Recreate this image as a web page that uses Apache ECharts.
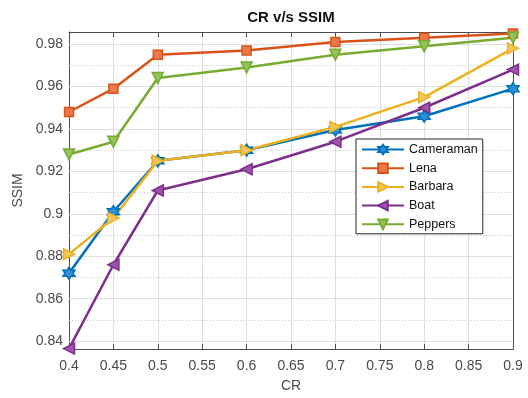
<!DOCTYPE html>
<html>
<head>
<meta charset="utf-8">
<script src="https://cdn.jsdelivr.net/npm/echarts@6/dist/echarts.min.js"></script>
<style>
html,body{margin:0;padding:0;background:#fff;}
#chart{width:528px;height:398px;}
</style>
</head>
<body>
<div id="chart"></div>
<script>
// ---- data ----
const crValues = [0.4, 0.45, 0.5, 0.6, 0.7, 0.8, 0.9];
const seriesNames = ['Cameraman', 'Lena', 'Barbara', 'Boat', 'Peppers'];
const cameraman = [0.872, 0.901, 0.925, 0.930, 0.9395, 0.946, 0.959];
const lena      = [0.948, 0.959, 0.975, 0.977, 0.981, 0.983, 0.985];
const barbara   = [0.881, 0.898, 0.925, 0.930, 0.941, 0.955, 0.978];
const boat      = [0.8365, 0.876, 0.911, 0.921, 0.934, 0.950, 0.968];
const peppers   = [0.928, 0.934, 0.964, 0.969, 0.975, 0.979, 0.983];
const yTickLabels = [0.84, 0.86, 0.88, 0.9, 0.92, 0.94, 0.96, 0.98];
const xTickLabels = [0.4, 0.45, 0.5, 0.55, 0.6, 0.65, 0.7, 0.75, 0.8, 0.85, 0.9];
const yMinorStep = 0.005;

// ---- style ----
const colors = ['#0072BD', '#D95319', '#EDB120', '#7E2F8E', '#77AC30'];
const fills  = ['#2f8fd0', '#e87a4a', '#f3c75a', '#9a55a8', '#93c45a'];
const symbols = [
  'path://M0,-10 L2.89,-5 L8.66,-5 L5.77,0 L8.66,5 L2.89,5 L0,10 L-2.89,5 L-8.66,5 L-5.77,0 L-8.66,-5 L-2.89,-5 Z',
  'rect',
  'path://M0,0 L10,5 L0,10 Z',
  'path://M10,0 L0,5 L10,10 Z',
  'path://M0,0 L10,0 L5,10 Z'
];
const symbolSizes = [12, 9, 11, 11, 11];
const allSeries = [cameraman, lena, barbara, boat, peppers];

const yMin = 0.8363, yMax = 0.9857;
const minorVals = [];
for (let v = 0.835; v < yMax; v += yMinorStep) {
  const r = Math.round(v * 1000) / 1000;
  if (r > yMin && !yTickLabels.some(t => Math.abs(t - r) < 1e-6)) minorVals.push(r);
}

const chart = echarts.init(document.getElementById('chart'), null, {renderer: 'canvas'});
const axisColor = '#4d4d4d';
const labelColor = '#4a4a4a';
const fontFamily = 'Liberation Sans, Arial, Helvetica, sans-serif';

const series = allSeries.map((vals, i) => ({
  name: seriesNames[i],
  type: 'line',
  z: 3,
  data: crValues.map((x, j) => [x, vals[j]]),
  symbol: symbols[i],
  symbolSize: symbolSizes[i],
  showSymbol: true,
  lineStyle: {color: colors[i], width: 2.5},
  itemStyle: {color: fills[i], borderColor: colors[i], borderWidth: 1.5},
  emphasis: {disabled: true},
  animation: false
}));

series.push({
  name: '_grid',
  type: 'line',
  data: [],
  silent: true,
  animation: false,
  markLine: {
    silent: true,
    z: 1,
    symbol: ['none', 'none'],
    label: {show: false},
    animation: false,
    data: minorVals.map(v => ({yAxis: v, lineStyle: {color: '#c8c8c8', type: [1, 2], width: 1}}))
      .concat(yTickLabels.map(v => ({yAxis: v, lineStyle: {color: '#dedede', type: 'solid', width: 1}})))
  }
});

const option = {
  backgroundColor: '#ffffff',
  animation: false,
  title: {
    text: 'CR v/s SSIM',
    left: 291,
    textAlign: 'center',
    top: 10,
    padding: 0,
    textStyle: {fontSize: 15, fontWeight: 'bold', color: '#111', fontFamily: fontFamily}
  },
  grid: {left: 69, right: 15, top: 32, bottom: 43, containLabel: false},
  legend: {
    data: seriesNames,
    orient: 'vertical',
    left: 356,
    top: 139,
    backgroundColor: '#ffffff',
    borderColor: '#262626',
    borderWidth: 1,
    borderRadius: 0,
    padding: [4, 5, 3, 5],
    itemWidth: 42,
    itemHeight: 12,
    itemGap: 5.7,
    selectedMode: false,
    textStyle: {fontSize: 12.5, color: '#111', fontFamily: fontFamily}
  },
  xAxis: [{
    type: 'value',
    min: 0.4,
    max: 0.9,
    interval: 0.05,
    name: 'CR',
    nameLocation: 'middle',
    nameGap: 30,
    nameTextStyle: {fontSize: 14, color: labelColor, fontFamily: fontFamily},
    axisLine: {show: true, lineStyle: {color: axisColor, width: 1}},
    axisTick: {show: true, inside: true, length: 5, lineStyle: {color: axisColor}},
    axisLabel: {fontSize: 14, color: labelColor, margin: 10, fontFamily: fontFamily,
      customValues: xTickLabels, formatter: v => String(+v.toFixed(2))},
    splitLine: {show: true, lineStyle: {color: '#dedede', width: 1}}
  }, {
    type: 'value',
    position: 'top',
    min: 0.4,
    max: 0.9,
    interval: 0.05,
    axisLine: {show: true, lineStyle: {color: axisColor, width: 1}},
    axisTick: {show: true, inside: true, length: 5, lineStyle: {color: axisColor}},
    axisLabel: {show: false},
    splitLine: {show: false}
  }],
  yAxis: [{
    type: 'value',
    min: yMin,
    max: yMax,
    name: 'SSIM',
    nameLocation: 'middle',
    nameGap: 39,
    nameRotate: 90,
    nameTextStyle: {fontSize: 14, color: labelColor, fontFamily: fontFamily},
    axisLine: {show: true, lineStyle: {color: axisColor, width: 1}},
    axisTick: {show: true, inside: true, length: 5, lineStyle: {color: axisColor}, customValues: yTickLabels},
    axisLabel: {fontSize: 14, color: labelColor, margin: 6, fontFamily: fontFamily,
      customValues: yTickLabels, formatter: v => String(+v.toFixed(2))},
    splitLine: {show: false}
  }, {
    type: 'value',
    position: 'right',
    min: yMin,
    max: yMax,
    axisLine: {show: true, lineStyle: {color: axisColor, width: 1}},
    axisTick: {show: true, inside: true, length: 5, lineStyle: {color: axisColor}, customValues: yTickLabels},
    axisLabel: {show: false, customValues: yTickLabels},
    splitLine: {show: false}
  }],
  series: series
};
chart.setOption(option);
</script>
</body>
</html>
